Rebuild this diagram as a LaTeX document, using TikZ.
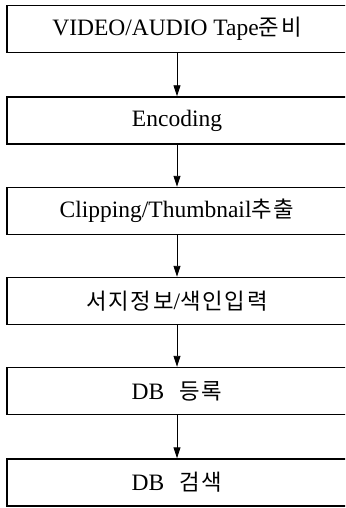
\documentclass[tikz,border=0pt]{standalone}
\usepackage{fontspec}
\setmainfont{Liberation Serif}
\newfontfamily\kr{Noto Sans CJK KR}[Scale=0.95,LetterSpace=8]
\usetikzlibrary{arrows.meta}
\begin{document}
\begin{tikzpicture}[x=1pt,y=-1pt,
  stepbox/.style={draw=black, line width=1.4pt, minimum width=340pt, minimum height=47pt,
    inner sep=0pt, font=\fontsize{23.5}{26}\selectfont, text=black},
  flow/.style={line width=0.9pt, -{Triangle[length=11pt,width=7pt]}}]
\useasboundingbox (0,0) rectangle (345,508);
\clip (0,0) rectangle (345,508);
\node[stepbox] (b1) at (177,29) {VIDEO/AUDIO Tape{\kr 준비}};
\node[stepbox] (b2) at (177,120.5) {Encoding};
\node[stepbox] (b3) at (177,211) {Clipping/Thumbnail{\kr 추출}};
\node[stepbox] (b4) at (177,301) {{\kr 서지정보}/{\kr 색인입력}};
\node[stepbox] (b5) at (177,391) {DB\hspace{15pt}{\kr 등록}};
\node[stepbox] (b6) at (177,482.5) {DB\hspace{15pt}{\kr 검색}};
\draw[flow] (b1.south) -- (b2.north);
\draw[flow] (b2.south) -- (b3.north);
\draw[flow] (b3.south) -- (b4.north);
\draw[flow] (b4.south) -- (b5.north);
\draw[flow] (b5.south) -- (b6.north);
\end{tikzpicture}
\end{document}
